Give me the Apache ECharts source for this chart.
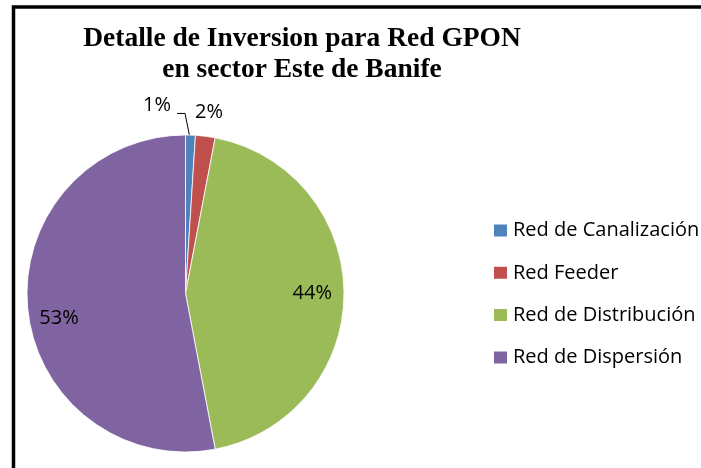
<!DOCTYPE html>
<html>
<head>
<meta charset="utf-8">
<script src="https://cdn.jsdelivr.net/npm/echarts@6/dist/echarts.min.js"></script>
<style>
  html, body { margin: 0; padding: 0; background: #fff; }
  #chart { width: 701px; height: 468px; }
</style>
</head>
<body>
<div id="chart"></div>
<script>
// Investment breakdown of the GPON network, east sector of Banife
const categories = ['Red de Canalización', 'Red Feeder', 'Red de Distribución', 'Red de Dispersión'];
const shares = [1, 2, 44, 53];
const colors = ['#4F81BD', '#C0504D', '#9BBB59', '#8064A2'];

// Pie geometry (pixels)
const CX = 185.5, CY = 293.5, R = 158.5;
// Label placement: radius as a fraction of R, and a turn (degrees) away from the slice's mid-angle
const labelRadius = [1.20, 1.155, 0.80, 0.813];
const labelTurn = [-10.4, 0.2, 0, -5.6];

const total = shares.reduce((a, b) => a + b, 0);
const midAngles = [];
(function () {
  let acc = 0;
  shares.forEach(v => { midAngles.push((acc + v / 2) / total * 360); acc += v; });
})();

function polar(rf, deg) {
  const t = deg * Math.PI / 180;
  return [CX + rf * R * Math.sin(t), CY - rf * R * Math.cos(t)];
}

const chart = echarts.init(document.getElementById('chart'), null, { renderer: 'canvas' });

const option = {
  backgroundColor: '#ffffff',
  animation: false,
  title: {
    text: 'Detalle de Inversion para Red GPON\nen sector Este de Banife',
    left: 302,
    top: 23,
    padding: 0,
    textAlign: 'center',
    textStyle: {
      fontFamily: 'Liberation Serif',
      fontWeight: 'bold',
      fontSize: 27.5,
      lineHeight: 31,
      color: '#000'
    }
  },
  legend: {
    orient: 'vertical',
    left: 492,
    top: 220.5,
    padding: 0,
    icon: 'rect',
    itemWidth: 15,
    itemHeight: 14,
    itemGap: 22.3,
    data: categories,
    textStyle: {
      fontFamily: 'Open Sans',
      fontSize: 20,
      lineHeight: 20,
      color: '#000'
    }
  },
  graphic: [{
    type: 'rect',
    silent: true,
    shape: { x: 13.5, y: 7, width: 1000, height: 1000 },
    style: { fill: 'none', stroke: '#000', lineWidth: 3.5 }
  }],
  series: [{
    type: 'pie',
    center: [CX, CY],
    radius: R,
    startAngle: 90,
    clockwise: true,
    avoidLabelOverlap: false,
    itemStyle: { borderColor: '#ffffff', borderWidth: 0.8 },
    label: {
      show: true,
      position: 'outside',
      formatter: p => p.value + '%',
      fontFamily: 'Open Sans',
      fontSize: 20,
      color: '#000'
    },
    labelLine: { show: false, lineStyle: { color: '#000', width: 1 } },
    data: categories.map((name, i) => ({
      name: name,
      value: shares[i],
      itemStyle: { color: colors[i] },
      labelLine: { show: i === 0 }
    })),
    labelLayout: function (params) {
      const i = params.dataIndex;
      const pos = polar(labelRadius[i], midAngles[i] + labelTurn[i]);
      const out = { x: pos[0], y: pos[1], align: 'center', verticalAlign: 'middle' };
      if (i === 0) {
        const half = params.labelRect.width / 2;
        const p0 = [pos[0] + half + 6, pos[1] + 8];
        const p1 = [pos[0] + half + 14, pos[1] + 8];
        const p2 = polar(0.97, midAngles[i]);
        out.labelLinePoints = [p0, p1, p2];
      }
      return out;
    }
  }]
};

chart.setOption(option);
</script>
</body>
</html>
